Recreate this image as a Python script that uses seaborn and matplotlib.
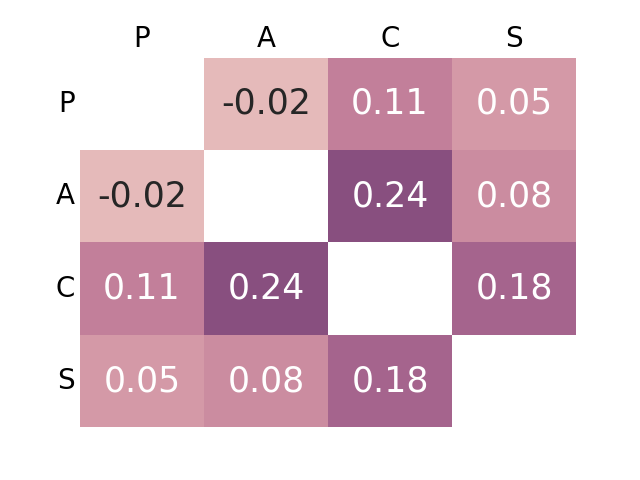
import numpy as np
import pandas as pd
import matplotlib
matplotlib.use('Agg')
import matplotlib.pyplot as plt
import seaborn as sns

# correlation values between the four variables
labels = ['P', 'A', 'C', 'S']
row_p = [1.00, -0.02, 0.11, 0.05]
row_a = [-0.02, 1.00, 0.24, 0.08]
row_c = [0.11, 0.24, 1.00, 0.18]
row_s = [0.05, 0.08, 0.18, 1.00]

corr = pd.DataFrame([row_p, row_a, row_c, row_s], index=labels, columns=labels)
mask = np.eye(len(labels), dtype=bool)

fig, ax = plt.subplots(figsize=(6.4, 4.8))
cmap = sns.cubehelix_palette(as_cmap=True)
sns.heatmap(corr, mask=mask, cmap=cmap, vmin=-0.07, vmax=0.41, annot=True, fmt='.2f',
            annot_kws={'fontsize': 25}, cbar=False, ax=ax)

ax.xaxis.tick_top()
ax.tick_params(length=0, labelsize=20)
plt.setp(ax.get_yticklabels(), rotation=0)
plt.setp(ax.get_xticklabels(), rotation=0)

plt.savefig('out.png', dpi=100)
